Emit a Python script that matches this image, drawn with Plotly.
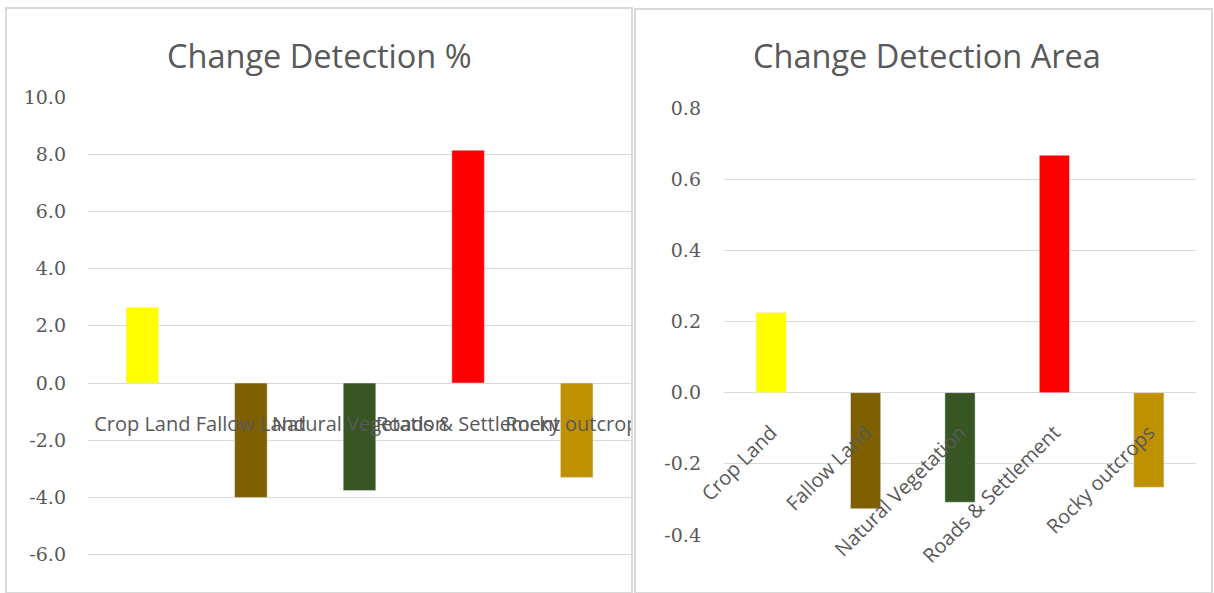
import plotly.graph_objects as go

# Land-cover classes and their change between the two dates
categories = ["Crop Land", "Fallow Land", "Natural Vegetation", "Roads & Settlement", "Rocky outcrops"]
change_pct = [2.64, -4.0, -3.76, 8.14, -3.3]
change_area = [0.225, -0.326, -0.308, 0.667, -0.266]
bar_colors = ["#FFFF00", "#7F6000", "#375623", "#FF0000", "#BF9000"]

pct_ticks = [-6, -4, -2, 0, 2, 4, 6, 8, 10]
area_ticks = [-0.4, -0.2, 0.0, 0.2, 0.4, 0.6, 0.8]

W, H = 1214, 593


def px_x(p):
    return p / W


def px_y(p):
    return (H - p) / H


def one_decimal(values):
    # plain hyphen for negatives, one decimal place
    return [f"{v:.1f}" for v in values]


GRID = "#d9d9d9"
TEXT = "#595959"
TICK_FONT = dict(family="DejaVu Serif", size=19, color=TEXT)
CAT_FONT = dict(family="Open Sans", size=20, color=TEXT)
TITLE_FONT = dict(family="Open Sans", size=32.5, color=TEXT)

fig = go.Figure()
fig.add_trace(go.Bar(x=categories, y=change_pct, marker_color=bar_colors, width=0.3,
                     xaxis="x", yaxis="y", showlegend=False))
fig.add_trace(go.Bar(x=categories, y=change_area, marker_color=bar_colors, width=0.32,
                     xaxis="x2", yaxis="y2", showlegend=False))

fig.update_layout(
    width=W, height=H,
    margin=dict(l=0, r=0, t=0, b=0, pad=0, autoexpand=False),
    paper_bgcolor="white", plot_bgcolor="white",
    # percentage panel
    xaxis=dict(domain=[px_x(88), px_x(631)], anchor="free", position=px_y(410),
               type="category", tickangle=0, showgrid=False, showline=False,
               ticks="", tickfont=CAT_FONT, fixedrange=True, automargin=False),
    yaxis=dict(domain=[0, px_y(97)], range=[-7.34, 10], tickvals=pct_ticks,
               ticktext=one_decimal(pct_ticks),
               showgrid=True, gridcolor=GRID, gridwidth=1,
               zeroline=False, showline=False, ticks="", tickfont=TICK_FONT,
               ticklabelstandoff=21, anchor="x", automargin=False),
    # area panel
    xaxis2=dict(domain=[px_x(724), px_x(1196)], anchor="free", position=px_y(416),
                type="category", tickangle=-45, showgrid=False, showline=False,
                ticks="", tickfont=CAT_FONT, fixedrange=True, automargin=False),
    yaxis2=dict(domain=[px_y(535), px_y(108)], range=[-0.4, 0.8], tickvals=area_ticks,
                ticktext=one_decimal(area_ticks),
                showgrid=True, gridcolor=GRID, gridwidth=1,
                zeroline=False, showline=False, ticks="", tickfont=TICK_FONT,
                ticklabelstandoff=22, anchor="x2", automargin=False),
    annotations=[
        dict(text="Change Detection %", x=px_x(319), y=px_y(55), xref="paper", yref="paper",
             xanchor="center", yanchor="middle", showarrow=False, font=TITLE_FONT),
        dict(text="Change Detection Area", x=px_x(927), y=px_y(55), xref="paper", yref="paper",
             xanchor="center", yanchor="middle", showarrow=False, font=TITLE_FONT),
    ],
    shapes=[
        # white strip trimming category labels at the left panel edge
        dict(type="rect", xref="paper", yref="paper", layer="above",
             x0=px_x(632), x1=px_x(668), y0=px_y(438), y1=px_y(405),
             fillcolor="white", line=dict(width=0)),
        # panel frames
        dict(type="rect", xref="paper", yref="paper", layer="above",
             x0=px_x(6), x1=px_x(632), y0=0, y1=px_y(8),
             line=dict(color=GRID, width=2)),
        dict(type="rect", xref="paper", yref="paper", layer="above",
             x0=px_x(635), x1=px_x(1212), y0=0, y1=px_y(9),
             line=dict(color=GRID, width=2)),
    ],
)

fig.write_html("out.html")
